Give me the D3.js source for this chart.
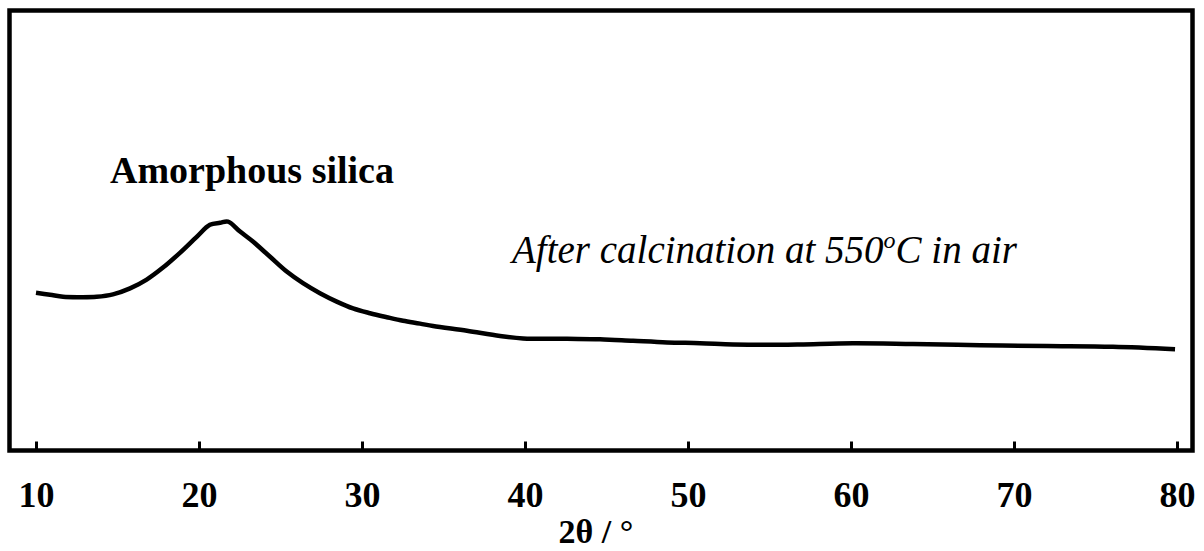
<!DOCTYPE html>
<html>
<head>
<meta charset="utf-8">
<script src="https://cdn.jsdelivr.net/npm/d3@7"></script>
<style>
  body { margin: 0; background: #fff; }
  svg { display: block; }
  .lbl { font-family: "Liberation Serif", "Times New Roman", serif; fill: #000; }
</style>
</head>
<body>
<div id="chart"></div>
<script>
// XRD pattern after calcination (2theta in degrees, intensity in arbitrary units)
var twoTheta = [10.0, 10.86, 11.66, 12.7, 13.72, 14.72, 15.77, 16.79, 17.79, 18.83,
  19.86, 20.67, 21.29, 21.78, 22.52, 23.31, 24.36, 25.38, 26.38, 27.42,
  28.45, 29.45, 30.49, 31.52, 32.52, 33.56, 34.36, 36.44, 38.47, 39.88,
  42.58, 44.6, 46.63, 48.71, 50.74, 52.76, 54.85, 56.87, 60.12, 63.8,
  67.91, 72.02, 76.07, 79.88];
var intensity = [393, 388, 383, 382, 383, 389, 404, 426, 456, 493,
  533, 563, 568, 571, 546, 521, 483, 446, 417, 392,
  371, 354, 342, 332, 323, 316, 310, 298, 285, 279,
  278, 277, 273, 269, 267, 264, 263, 264, 267, 265,
  262, 260, 258, 252];
var xTicks = [10, 20, 30, 40, 50, 60, 70, 80];

var width = 1204, height = 551;

var svg = d3.select('#chart').append('svg')
  .attr('width', width)
  .attr('height', height);

var x = d3.scaleLinear().domain([10, 80]).range([36, 1177]);
var y = d3.scaleLinear().domain([0, 1100]).range([450, 10]);

// frame
svg.append('rect')
  .attr('x', 9.5).attr('y', 10.5)
  .attr('width', 1183).attr('height', 440)
  .attr('fill', 'none')
  .attr('stroke', '#000')
  .attr('stroke-width', 4.5);

// x axis, ticks pointing up into the frame
var axis = svg.append('g')
  .attr('transform', 'translate(0,450.5)')
  .call(d3.axisBottom(x).tickValues(xTicks).tickSize(-9).tickSizeOuter(0));
axis.select('.domain').remove();
axis.selectAll('.tick line').attr('stroke', '#000').attr('stroke-width', 3);
axis.selectAll('.tick text')
  .attr('class', 'lbl')
  .attr('y', 56).attr('dy', 0)
  .style('font-size', '36px')
  .style('font-weight', 'bold');

svg.append('text')
  .attr('class', 'lbl')
  .attr('x', 596).attr('y', 543)
  .attr('text-anchor', 'middle')
  .style('font-size', '34px')
  .style('font-weight', 'bold')
  .text('2θ / °');

// pattern line
var line = d3.line()
  .x(function(d, i) { return x(twoTheta[i]); })
  .y(function(d) { return y(d); })
  .curve(d3.curveCatmullRom.alpha(0.5));

svg.append('path')
  .datum(intensity)
  .attr('d', line)
  .attr('fill', 'none')
  .attr('stroke', '#000')
  .attr('stroke-width', 4.5)
  .attr('stroke-linejoin', 'round');

// annotations
svg.append('text')
  .attr('class', 'lbl')
  .attr('x', 110).attr('y', 183)
  .style('font-size', '38px')
  .style('font-weight', 'bold')
  .text('Amorphous silica');

var note = svg.append('text')
  .attr('class', 'lbl')
  .attr('x', 512).attr('y', 263)
  .style('font-size', '39px')
  .style('font-style', 'italic');
note.append('tspan').text('After calcination at 550');
note.append('tspan').attr('dy', -15).style('font-size', '24px').text('o');
note.append('tspan').attr('dy', 15).text('C in air');
</script>
</body>
</html>
